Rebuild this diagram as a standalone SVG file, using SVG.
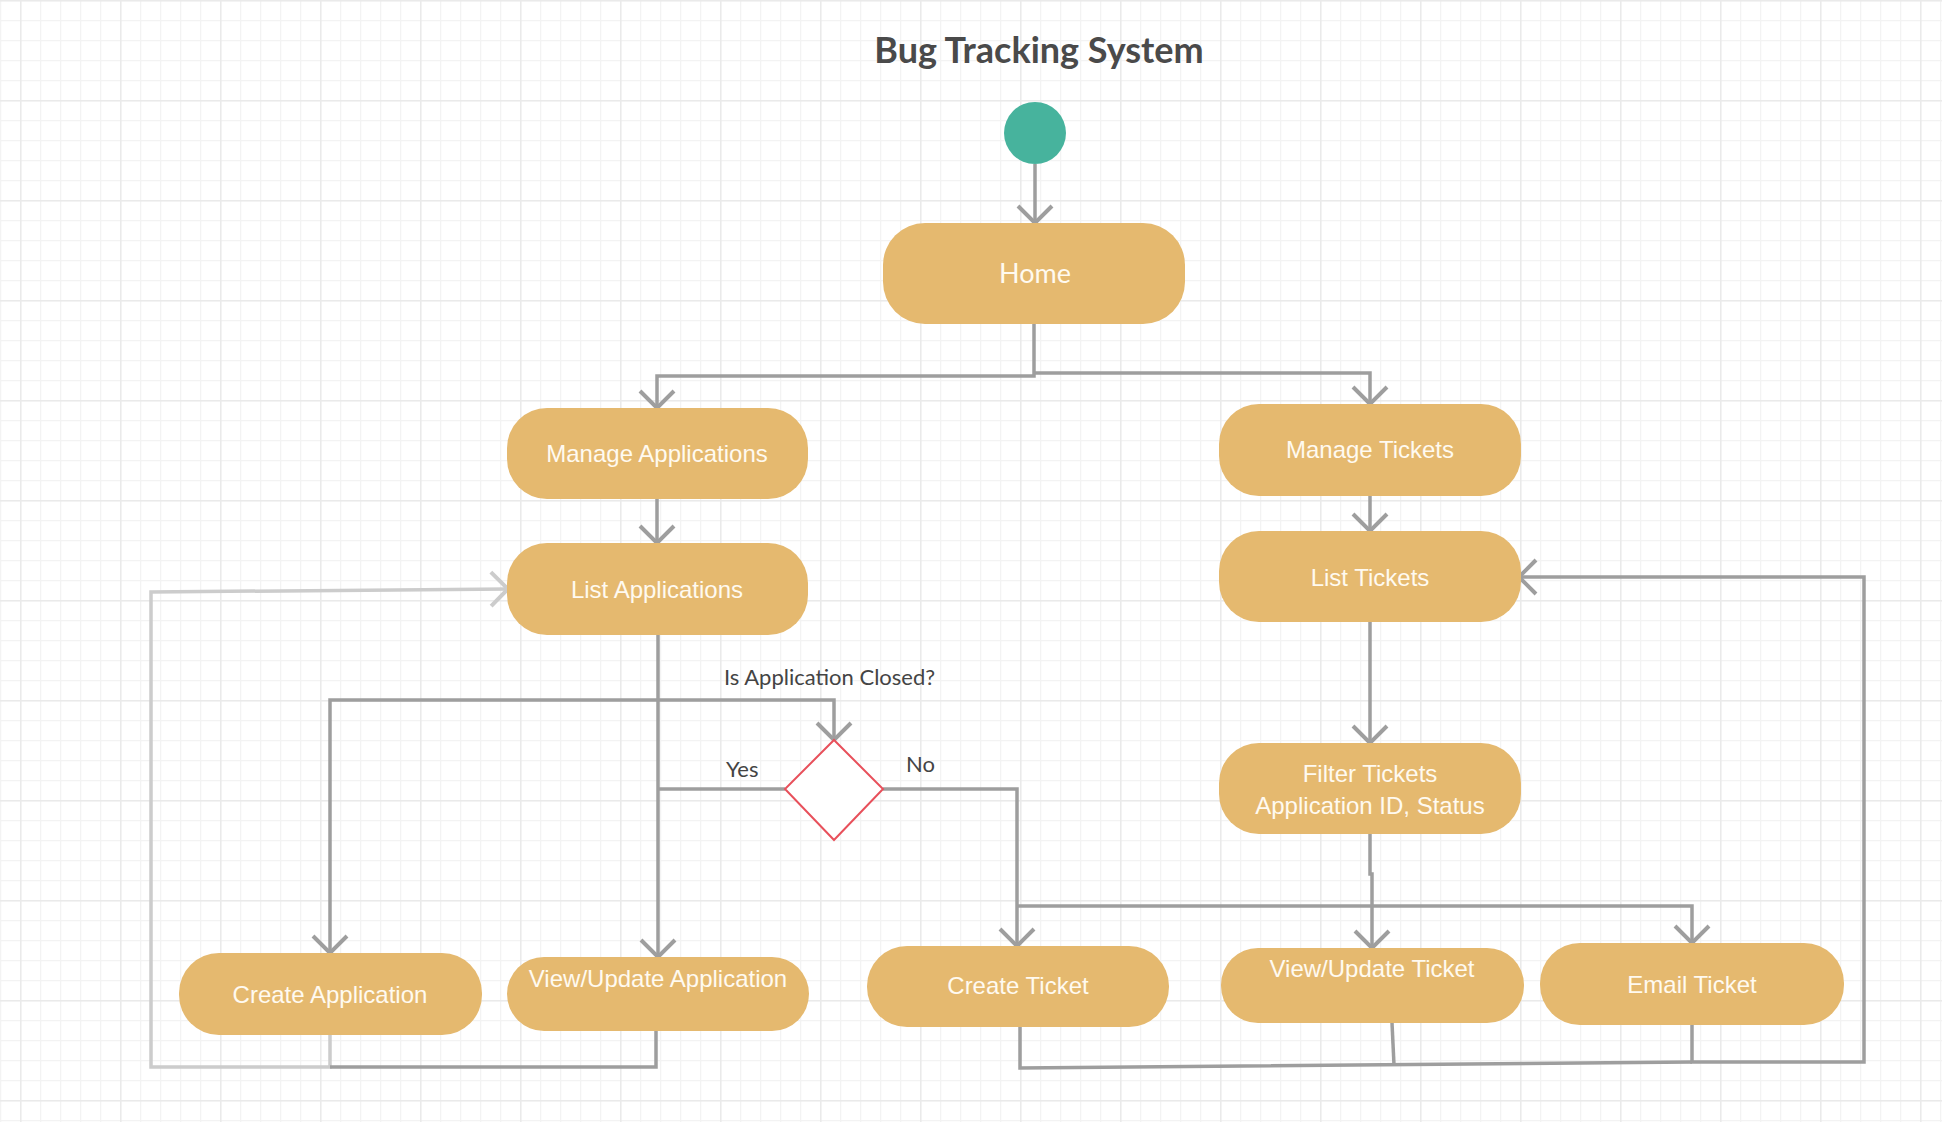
<svg xmlns="http://www.w3.org/2000/svg" width="1942" height="1122" viewBox="0 0 1942 1122">
<style>
.node{fill:#e5b96f}
.lbl{font-family:"Liberation Sans",Arial,sans-serif;font-size:24px;fill:#fffaf0;text-anchor:middle}
.title{font-family:Lato,"Liberation Sans",sans-serif;font-weight:bold;font-size:36px;fill:#4a4a4a;text-anchor:middle}
.elbl{font-family:Lato,"Liberation Sans",sans-serif;font-size:22px;fill:#444}
.c{fill:none;stroke:#9e9e9e;stroke-width:3.5;marker-end:url(#a)}
.cn{fill:none;stroke:#9e9e9e;stroke-width:3.5}
.cl{fill:none;stroke:#cccccc;stroke-width:3.5}
</style>
<defs>
<pattern id="g1" width="20" height="20" patternUnits="userSpaceOnUse">
<rect x="0" y="0" width="20" height="1.3" fill="#f3f3f3"/><rect x="0" y="0" width="1.3" height="20" fill="#f3f3f3"/>
</pattern>
<pattern id="g2" width="100" height="100" patternUnits="userSpaceOnUse" x="20" y="0">
<rect x="0" y="0" width="1.5" height="100" fill="#eaeaea"/><rect x="-20" y="0" width="100" height="1.5" fill="#eaeaea"/><rect x="80" y="0" width="20" height="1.5" fill="#eaeaea"/>
</pattern>
<marker id="a" viewBox="-20 -20 24 40" markerWidth="24" markerHeight="40" refX="0" refY="0" orient="auto" markerUnits="userSpaceOnUse">
<path d="M-17,-17 L0,0 L-17,17" fill="none" stroke="#9e9e9e" stroke-width="4"/>
</marker>
<marker id="al" viewBox="-20 -20 24 40" markerWidth="24" markerHeight="40" refX="0" refY="0" orient="auto" markerUnits="userSpaceOnUse">
<path d="M-17,-17 L0,0 L-17,17" fill="none" stroke="#cccccc" stroke-width="4"/>
</marker>
</defs>
<rect width="1942" height="1122" fill="#ffffff"/>
<rect width="1942" height="1122" fill="url(#g1)"/>
<rect width="1942" height="1122" fill="url(#g2)"/>

<text class="title" x="1039" y="63">Bug Tracking System</text>

<g id="connectors">
<path class="c" d="M1035,164 V223"/>
<path class="c" d="M1034,324 V376 H657 V408"/>
<path class="c" d="M1034,373 H1370 V404"/>
<path class="c" d="M657,499 V543"/>
<path class="c" d="M1370,496 V531"/>
<path class="c" d="M658,635 V957"/>
<path class="c" d="M658,700 H330 V953"/>
<path class="c" d="M658,700 H834 V740"/>
<path class="cn" d="M785,789 H658"/>
<path class="c" d="M883,789 H1017 V946"/>
<path class="c" d="M1370,622 V743"/>
<path class="c" d="M1370,834 V874 H1372 V948"/>
<path class="c" d="M1017,906 H1692 V943"/>
<path class="cl" d="M330,1035 V1067 H151 V592 L508,589" style="marker-end:url(#al)"/>
<path class="cn" d="M656,1031 V1067 H330"/>
<path class="cn" d="M1020,1027 V1068 L1692,1062"/>
<path class="cn" d="M1392,1023 L1394,1065"/>
<path class="c" d="M1692,1025 V1062 H1864 V577 H1519"/>
</g>

<g id="start"><circle cx="1035" cy="133" r="31" fill="#47b39d"/></g>

<g id="home"><rect class="node" x="883" y="223" width="302" height="101" rx="42"/>
<text x="1035" y="283" font-family="Lato,'Liberation Sans',sans-serif" font-size="27" fill="#fffaf0" text-anchor="middle">Home</text></g>

<g id="manage-apps"><rect class="node" x="507" y="408" width="301" height="91" rx="40"/>
<text class="lbl" x="657" y="462">Manage Applications</text></g>

<g id="list-apps"><rect class="node" x="507" y="543" width="301" height="92" rx="40"/>
<text class="lbl" x="657" y="598">List Applications</text></g>

<g id="manage-tickets"><rect class="node" x="1219" y="404" width="302" height="92" rx="40"/>
<text class="lbl" x="1370" y="458">Manage Tickets</text></g>

<g id="list-tickets"><rect class="node" x="1219" y="531" width="302" height="91" rx="40"/>
<text class="lbl" x="1370" y="586">List Tickets</text></g>

<g id="filter-tickets"><rect class="node" x="1219" y="743" width="302" height="91" rx="40"/>
<text class="lbl" x="1370" y="782">Filter Tickets</text>
<text class="lbl" x="1370" y="814">Application ID, Status</text></g>

<g id="decision"><polygon points="834,740 883,789 834,840 785,789" fill="#ffffff" stroke="#e8505b" stroke-width="2"/></g>

<g id="labels">
<text class="elbl" x="724" y="685">Is Application Closed?</text>
<text class="elbl" x="726" y="777">Yes</text>
<text class="elbl" x="906" y="772">No</text>
</g>

<g id="create-app"><rect class="node" x="179" y="953" width="303" height="82" rx="40"/>
<text class="lbl" x="330" y="1003">Create Application</text></g>

<g id="view-app"><rect class="node" x="507" y="957" width="302" height="74" rx="37"/>
<text class="lbl" x="658" y="987">View/Update Application</text></g>

<g id="create-ticket"><rect class="node" x="867" y="946" width="302" height="81" rx="40"/>
<text class="lbl" x="1018" y="994">Create Ticket</text></g>

<g id="view-ticket"><rect class="node" x="1221" y="948" width="303" height="75" rx="37"/>
<text class="lbl" x="1372" y="977">View/Update Ticket</text></g>

<g id="email-ticket"><rect class="node" x="1540" y="943" width="304" height="82" rx="40"/>
<text class="lbl" x="1692" y="993">Email Ticket</text></g>
</svg>
